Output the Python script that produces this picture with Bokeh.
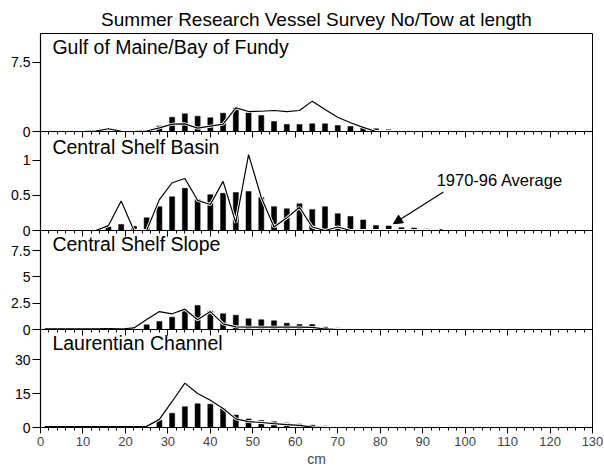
from bokeh.plotting import figure
from bokeh.layouts import column
from bokeh.models import (Range1d, LinearAxis, FixedTicker,
                          CustomJSTickFormatter, Label, Arrow, NormalHead, ColumnDataSource)
from bokeh.embed import file_html
from bokeh.resources import INLINE

FONT = "Liberation Sans"

title_text = "Summer Research Vessel Survey No/Tow at length"
x_label = "cm"
annotation_text = "1970-96 Average"

# length classes (cm)
length_cm = [1, 4, 7, 10, 13, 16, 19, 22, 25, 28, 31, 34, 37, 40, 43, 46,
             49, 52, 55, 58, 61, 64, 67, 70, 73, 76, 79, 82, 85, 88, 91, 94]

# Gulf of Maine / Bay of Fundy
gulf_avg = [0, 0, 0.05, 0, 0, 0, 0, 0, 0.05, 0.6, 1.55, 1.92, 1.67, 1.49, 1.99, 2.55,
            2.03, 1.74, 1.09, 0.76, 0.76, 0.83, 0.83, 0.65, 0.54, 0.4, 0.29, 0.18, 0.1, 0.04, 0.02, 0]
gulf_cur = [0, 0, 0, 0, 0.05, 0.3, 0.02, 0, 0.05, 0.4, 0.8, 0.83, 0.36, 0.58, 0.8, 2.57,
            2.17, 2.2, 2.28, 2.17, 2.28, 3.3, 2.4, 1.55, 0.95, 0.45, 0, 0, 0, 0, 0, 0]

# Central Shelf Basin
basin_avg = [0, 0, 0, 0, 0, 0.05, 0.085, 0.06, 0.18, 0.34, 0.48, 0.6, 0.44, 0.51, 0.53, 0.54,
             0.555, 0.47, 0.34, 0.31, 0.38, 0.3, 0.34, 0.24, 0.2, 0.15, 0.07, 0.065, 0.04, 0.035, 0.02, 0.015]
basin_cur = [0, 0, 0, 0, 0, 0.07, 0.42, 0, 0, 0.44, 0.68, 0.74, 0.43, 0.37, 0.7, 0.11,
             1.08, 0.47, 0.05, 0.18, 0.33, 0.05, 0, 0.05, 0, 0, 0, 0, 0, 0, 0, 0]

# Central Shelf Slope
slope_avg = [0, 0, 0, 0, 0, 0, 0, 0, 0.44, 0.76, 1.17, 1.7, 2.28, 1.75, 1.49, 1.36,
             1.01, 0.92, 0.82, 0.6, 0.47, 0.47, 0.22, 0.12, 0.06, 0.03, 0, 0, 0, 0, 0, 0]
slope_cur = [0.05, 0.05, 0.05, 0.05, 0.06, 0.08, 0.05, 0.15, 0.95, 1.7, 1.49, 1.93, 0.92, 1.7, 0.54, 0.25,
             0.22, 0.22, 0.22, 0.22, 0.22, 0.2, 0.05, 0, 0, 0, 0, 0, 0, 0, 0, 0]

# Laurentian Channel
laur_avg = [0, 0, 0, 0, 0, 0, 0, 0, 0.1, 3.2, 6.3, 9.2, 10.5, 10.3, 8.4, 5.5,
            3.8, 3.1, 2.5, 2.0, 1.5, 1.0, 0.6, 0.3, 0.1, 0, 0, 0, 0, 0, 0, 0]
laur_cur = [0.4, 0.4, 0.4, 0.4, 0.4, 0.4, 0.4, 0.45, 0.5, 3.6, 11.5, 19.6, 15, 12, 8.4, 3.8,
            2.6, 2.2, 1.7, 1.3, 0.9, 0.15, 0, 0, 0, 0, 0, 0, 0, 0, 0, 0]

panel_names = ["Gulf of Maine/Bay of Fundy", "Central Shelf Basin",
               "Central Shelf Slope", "Laurentian Channel"]
panel_avg = [gulf_avg, basin_avg, slope_avg, laur_avg]
panel_cur = [gulf_cur, basin_cur, slope_cur, laur_cur]
y_max = [10.65, 1.41, 9.4, 43.3]
y_ticks = [[0, 7.5], [0, 0.5, 1], [0, 2.5, 5, 7.5], [0, 15, 30]]
x_major = [0, 10, 20, 30, 40, 50, 60, 70, 80, 90, 100, 110, 120, 130]
x_minor = [m + d for m in x_major[:-1] for d in (2, 4, 6, 8)]

# layout (pixels)
frame_h = [98, 99, 99, 98]
label_drop = [24, 26, 24, 24]   # baseline of panel label below frame top
PAD = 8                          # spare border above/below each frame (overlapped)

fmt = CustomJSTickFormatter(code="return String(tick)")
x_range = Range1d(0, 130)


def tick_strip(ticks, length):
    return LinearAxis(ticker=FixedTicker(ticks=[], minor_ticks=ticks),
                      major_label_text_font_size="0px", major_tick_out=0, major_tick_in=0,
                      minor_tick_out=0, minor_tick_in=length, axis_line_width=1.2)


figs = []
for i in range(4):
    last = (i == 3)
    ppu = frame_h[i] / y_max[i]
    p = figure(frame_width=552, frame_height=frame_h[i], x_range=x_range,
               y_range=Range1d(0, y_max[i]), output_backend="svg", toolbar_location=None,
               x_axis_location=("below" if last else None), y_axis_location="left",
               min_border_left=40, min_border_right=11,
               min_border_top=(33 if i == 0 else PAD),
               min_border_bottom=(0 if last else PAD),
               title=(title_text if i == 0 else None))
    p.background_fill_color = None
    p.border_fill_color = None
    p.outline_line_color = "black"
    p.outline_line_width = 1
    p.xgrid.visible = False
    p.ygrid.visible = False
    if i == 0:
        p.title.align = "center"
        p.title.offset = 3
        p.title.standoff = 8
        p.title.text_font = FONT
        p.title.text_font_size = "19px"
        p.title.text_font_style = "normal"
        p.title.text_color = "black"
    else:
        p.margin = (-2 * PAD, 0, 0, 0)

    ya = p.yaxis[0]
    ya.ticker = FixedTicker(ticks=y_ticks[i])
    ya.formatter = fmt
    ya.major_tick_out = 8
    ya.major_tick_in = 0
    ya.minor_tick_out = 0
    ya.minor_tick_in = 0
    ya.major_label_standoff = 2
    ya.major_label_text_font = FONT
    ya.major_label_text_font_size = "14px"
    ya.major_label_text_color = "black"
    ya.axis_line_width = 1.2

    src = ColumnDataSource(dict(x=length_cm, avg=panel_avg[i], cur=panel_cur[i]))
    p.vbar(x="x", top="avg", width=1.2, source=src, fill_color="black", line_color="black", line_width=0.5)
    p.line("x", "cur", source=src, line_color="white", line_width=3)
    p.line("x", "cur", source=src, line_color="black", line_width=1.2)

    if last:
        xa = p.xaxis[0]
        xa.ticker = FixedTicker(ticks=x_major, minor_ticks=x_minor)
        xa.formatter = fmt
        xa.major_tick_out = 6
        xa.major_tick_in = 0
        xa.minor_tick_out = 3
        xa.minor_tick_in = 0
        xa.major_label_standoff = 3
        xa.major_label_text_font = FONT
        xa.major_label_text_font_size = "13px"
        xa.axis_label = x_label
        xa.axis_label_text_font = FONT
        xa.axis_label_text_font_size = "14px"
        xa.axis_label_text_font_style = "normal"
        xa.axis_label_standoff = 2
        xa.axis_line_width = 1.2
    else:
        z = LinearAxis(fixed_location=0, ticker=FixedTicker(ticks=[]),
                       major_label_text_font_size="0px", major_tick_out=0, major_tick_in=0,
                       minor_tick_out=0, minor_tick_in=0, axis_line_width=1.2)
        p.add_layout(z, "below")

    if i > 0:
        t1 = tick_strip(x_major, 6)
        t1.fixed_location = y_max[i]
        t2 = tick_strip(x_minor, 3)
        t2.fixed_location = y_max[i]
        p.add_layout(t1, "above")
        p.add_layout(t2, "above")

    p.add_layout(Label(x=2.8, y=y_max[i] - label_drop[i] / ppu, text=panel_names[i],
                       text_font=FONT, text_font_size="19.5px", text_color="black"))

    if i == 1:
        p.add_layout(Label(x=93.3, y=0.59, text=annotation_text, text_font=FONT,
                           text_font_size="16.5px", text_color="black"))
        p.add_layout(Arrow(x_start=94.9, y_start=0.547, x_end=83.1, y_end=0.096,
                           line_width=1.2, line_color="black",
                           end=NormalHead(size=9, fill_color="black", line_color="black")))
    figs.append(p)

layout = column(*figs, spacing=0)
open("out.html", "w").write(file_html(layout, INLINE, title=title_text))
